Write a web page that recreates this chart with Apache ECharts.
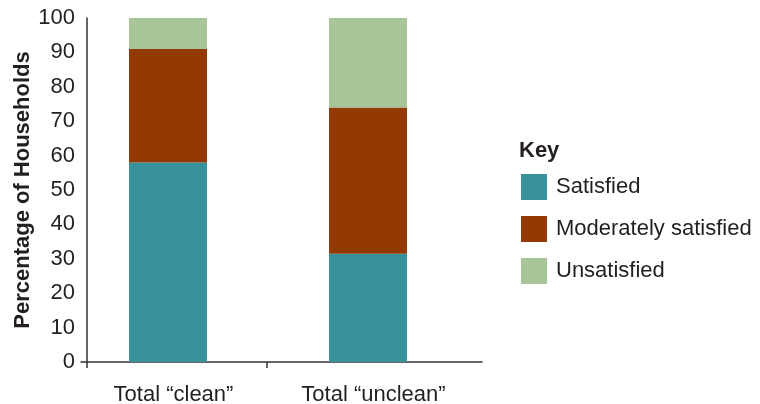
<!DOCTYPE html>
<html>
<head>
<meta charset="utf-8">
<script src="https://cdn.jsdelivr.net/npm/echarts@6/dist/echarts.min.js"></script>
<style>
  html, body { margin: 0; padding: 0; background: #fff; }
  #chart { width: 760px; height: 404px; }
</style>
</head>
<body>
<div id="chart"></div>
<script>
// Household satisfaction by water category (percent, stacked to 100)
const categories = ['Total \u201cclean\u201d', 'Total \u201cunclean\u201d'];
const satisfied = [58, 31.5];
const moderatelySatisfied = [33, 42.5];
const unsatisfied = [9, 26];
const seriesNames = ['Satisfied', 'Moderately satisfied', 'Unsatisfied'];
const colors = ['#37929b', '#933903', '#a8c499'];

const FONT = '"Liberation Sans", Arial, Helvetica, sans-serif';
const TEXT = '#231f20';

const chart = echarts.init(document.getElementById('chart'), null, { renderer: 'canvas' });

const makeBar = (name, data, color) => ({
  name,
  type: 'bar',
  stack: 'total',
  data,
  barWidth: 78,
  xAxisIndex: 0,
  yAxisIndex: 0,
  itemStyle: { color },
  emphasis: { disabled: true }
});

chart.setOption({
  animation: false,
  color: colors,
  title: {
    text: 'Key',
    left: 514,
    top: 135,
    textStyle: { fontFamily: FONT, fontSize: 22, fontWeight: 'bold', color: TEXT }
  },
  legend: {
    orient: 'vertical',
    left: 516,
    top: 169,
    itemWidth: 26,
    itemHeight: 26,
    itemGap: 16,
    icon: 'rect',
    selectedMode: false,
    data: seriesNames,
    textStyle: { fontFamily: FONT, fontSize: 22, color: TEXT, padding: [0, 0, 0, 4] }
  },
  grid: [
    { left: 68, width: 400, top: 18, bottom: 42, outerBoundsMode: 'none', containLabel: false },
    { left: 81, width: 401, top: 18, bottom: 42, outerBoundsMode: 'none', containLabel: false }
  ],
  xAxis: [
    {
      type: 'category',
      gridIndex: 0,
      data: categories,
      axisLine: { show: false },
      axisTick: { show: false },
      axisLabel: { fontFamily: FONT, fontSize: 22, color: TEXT, margin: 22, padding: [0, 0, 0, 11] }
    },
    {
      // baseline with its two downward ticks
      type: 'value',
      gridIndex: 1,
      min: 0,
      max: 401,
      axisLine: { show: true, lineStyle: { color: '#333', width: 1.5 } },
      axisTick: { show: true, customValues: [6, 186], length: 6, lineStyle: { color: '#333', width: 1.5 } },
      axisLabel: { show: false },
      splitLine: { show: false }
    }
  ],
  yAxis: [
    {
      type: 'value',
      gridIndex: 0,
      min: 0,
      max: 100,
      interval: 10,
      offset: -19,
      name: 'Percentage of Households',
      nameLocation: 'middle',
      nameGap: 53,
      nameMoveOverlap: false,
      nameTextStyle: { fontFamily: FONT, fontSize: 22, fontWeight: 'bold', color: TEXT },
      axisLine: { show: true, lineStyle: { color: '#333', width: 1.5 } },
      axisTick: { show: false },
      axisLabel: { fontFamily: FONT, fontSize: 22, color: TEXT, margin: 12 },
      splitLine: { show: false }
    },
    {
      type: 'value',
      gridIndex: 1,
      min: 0,
      max: 100,
      show: false
    }
  ],
  series: [
    makeBar(seriesNames[0], satisfied, colors[0]),
    makeBar(seriesNames[1], moderatelySatisfied, colors[1]),
    makeBar(seriesNames[2], unsatisfied, colors[2])
  ]
});
</script>
</body>
</html>
